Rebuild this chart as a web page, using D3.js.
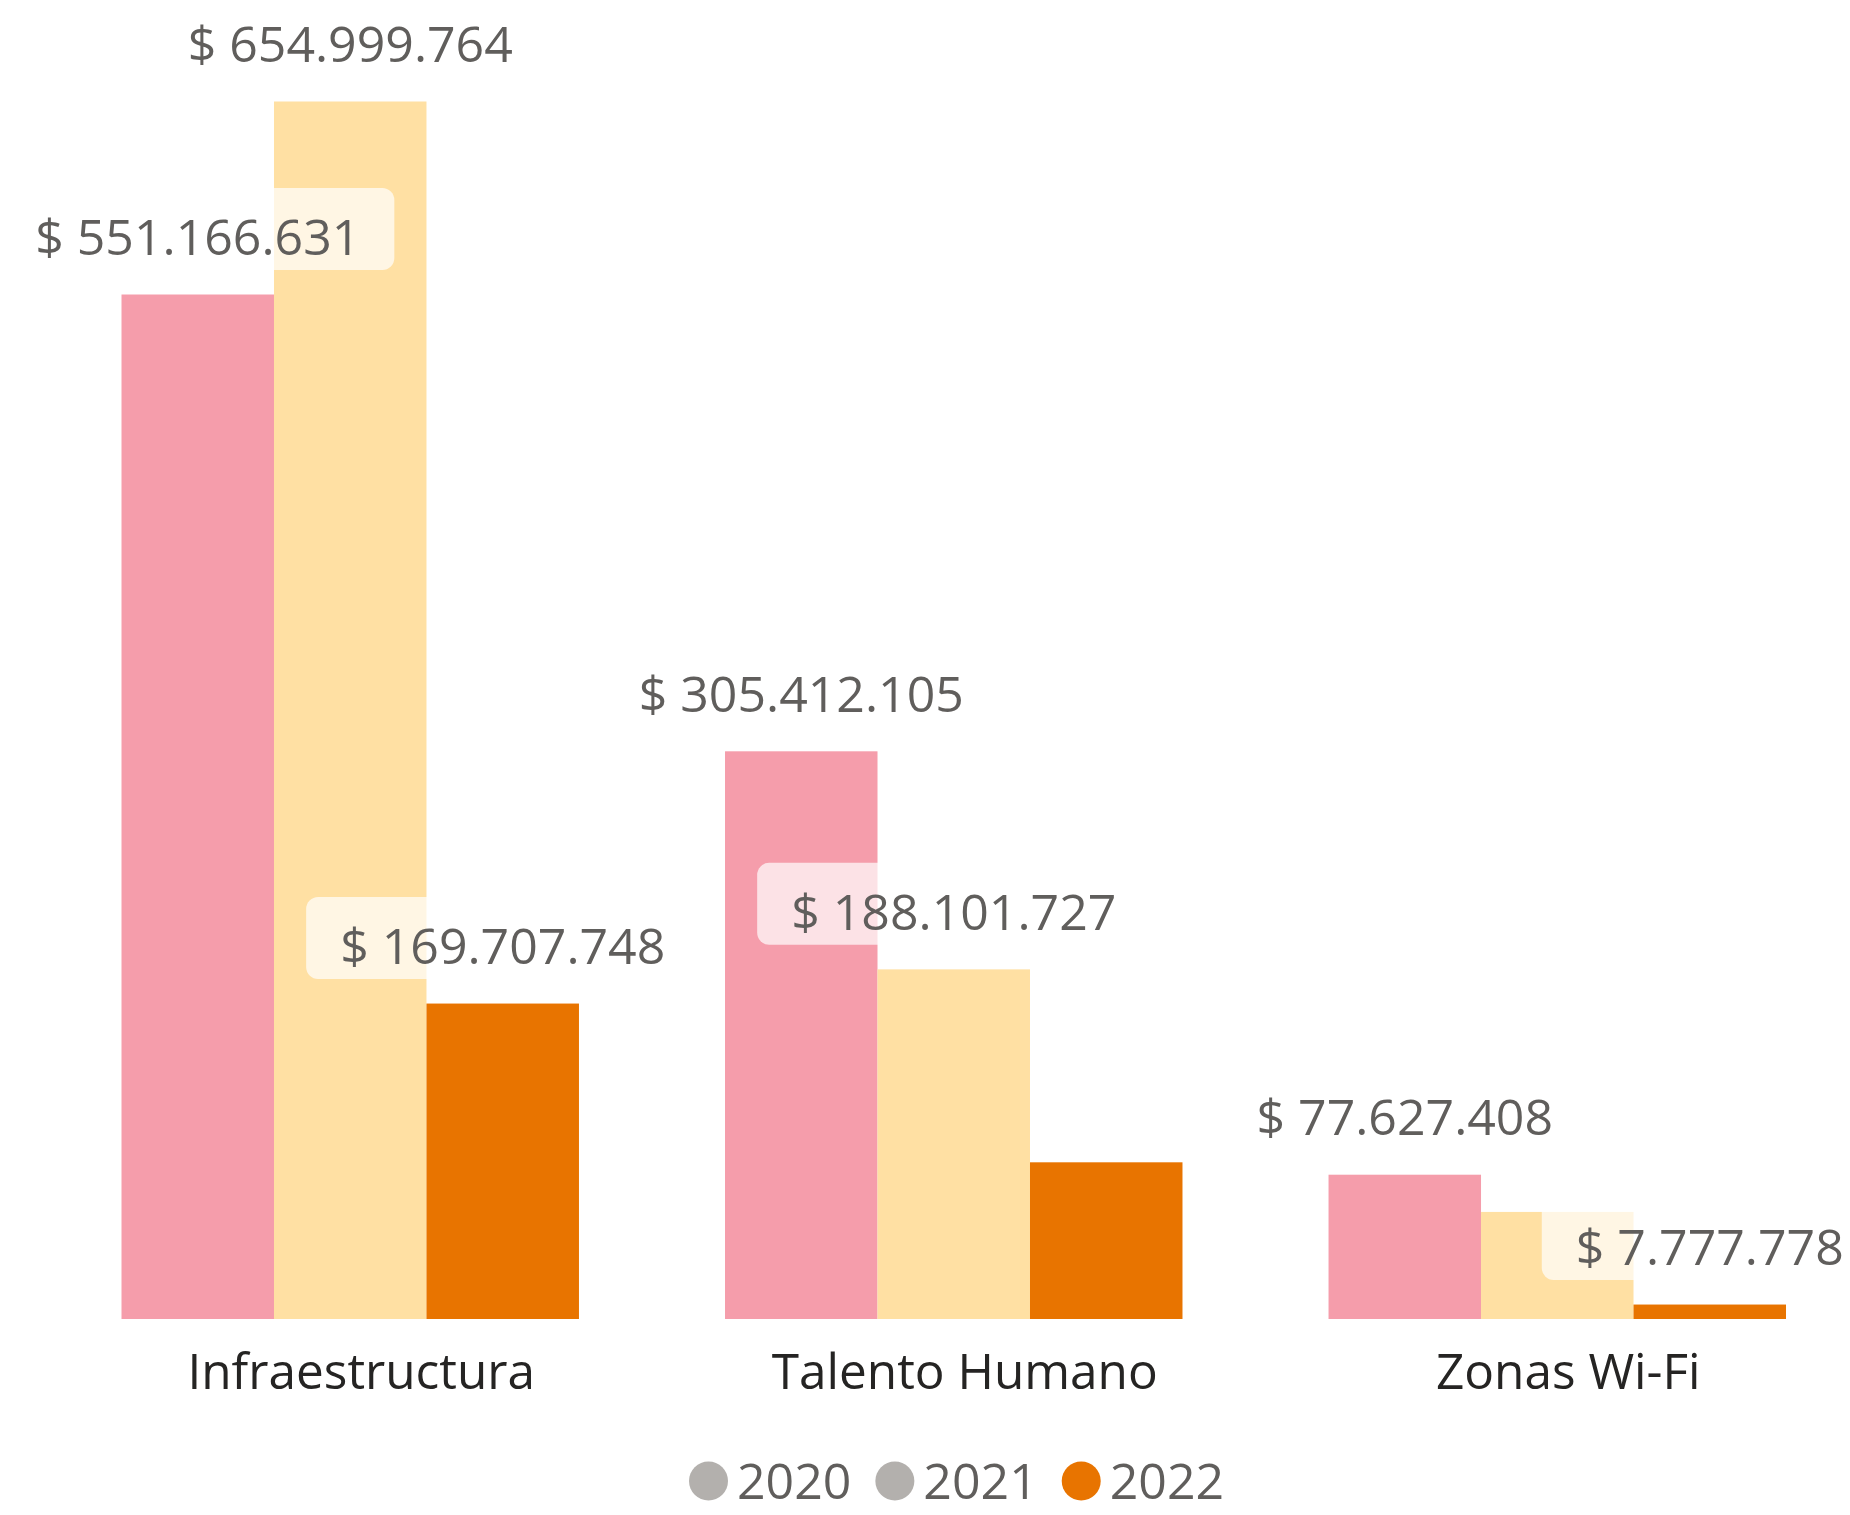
<!DOCTYPE html>
<html>
<head>
<meta charset="utf-8">
<script src="https://cdn.jsdelivr.net/npm/d3@7"></script>
<style>
  body { margin: 0; background: #fff; }
  svg { display: block; }
  text { font-family: "Open Sans", "Noto Sans", sans-serif; }
</style>
</head>
<body>
<svg id="chart" width="1850" height="1515"></svg>
<script>
// Budget by category and year
const categories = ["Infraestructura", "Talento Humano", "Zonas Wi-Fi"];
const years = ["2020", "2021", "2022"];
const values2020 = [551166631, 305412105, 77627408];
const values2021 = [654999764, 188101727, 57600000];
const values2022 = [169707748, 84300000, 7777778];
// Data labels that are displayed (two were dropped for lack of room)
const shown2020 = [true, true, true];
const shown2021 = [true, true, false];
const shown2022 = [true, false, true];

const barColors = ["#F59DAB", "#FFE0A3", "#E87400"];
const legendColors = ["#B3B0AD", "#B3B0AD", "#E87400"];

const seriesValues = [values2020, values2021, values2022];
const seriesShown = [shown2020, shown2021, shown2022];

const rows = [];
years.forEach((yr, si) => {
  categories.forEach((cat, ci) => {
    rows.push({ year: yr, cat: cat, value: seriesValues[si][ci], shown: seriesShown[si][ci], si: si });
  });
});

const locale = d3.formatLocale({ decimal: ",", thousands: ".", grouping: [3], currency: ["$ ", ""] });
const fmt = locale.format("$,");

const svg = d3.select("#chart");
const baseY = 1319;

const x0 = d3.scaleBand().domain(categories).range([121.5, 1786]).paddingInner(0.242).paddingOuter(0);
const x1 = d3.scaleBand().domain(years).range([0, x0.bandwidth()]);
const y = d3.scaleLinear().domain([0, d3.max(rows, d => d.value)]).range([baseY, 101.5]);

// Bars
svg.append("g").selectAll("rect").data(rows).join("rect")
  .attr("x", d => x0(d.cat) + x1(d.year))
  .attr("y", d => y(d.value))
  .attr("width", x1.bandwidth())
  .attr("height", d => baseY - y(d.value))
  .attr("fill", d => barColors[d.si]);

// Category axis
const axis = svg.append("g").attr("transform", `translate(0,${baseY})`)
  .call(d3.axisBottom(x0).tickSize(0));
axis.select(".domain").remove();
axis.selectAll("text")
  .attr("y", 70).attr("dy", null).attr("dx", 11)
  .attr("fill", "#252423")
  .style("font-family", '"Open Sans", sans-serif')
  .style("font-size", "49.5px");

// Data labels with a translucent backdrop
const boxLayer = svg.append("g");
const labelLayer = svg.append("g");
const labelled = rows.filter(d => d.shown);
const labels = labelLayer.selectAll("text").data(labelled).join("text")
  .attr("x", d => x0(d.cat) + x1(d.year) + x1.bandwidth() / 2)
  .attr("y", d => y(d.value) - 39.5)
  .attr("text-anchor", "middle")
  .attr("fill", "#605E5C")
  .style("font-size", "50px")
  .text(d => fmt(d.value));

labels.each(function (d) {
  const bb = this.getBBox();
  const baseline = y(d.value) - 39.5;
  boxLayer.append("rect")
    .attr("x", bb.x - 34)
    .attr("y", baseline - 67)
    .attr("width", bb.width + 68)
    .attr("height", 82)
    .attr("rx", 12)
    .attr("fill", "#fff")
    .attr("fill-opacity", 0.7);
});

// Legend
const legend = svg.append("g");
let lx = 689;
years.forEach((yr, i) => {
  legend.append("circle")
    .attr("cx", lx + 19.5).attr("cy", 1481).attr("r", 19.5)
    .attr("fill", legendColors[i]);
  const t = legend.append("text")
    .attr("x", lx + 39 + 9).attr("y", 1499)
    .attr("fill", "#605E5C")
    .style("font-size", "50px")
    .text(yr);
  lx = lx + 39 + 9 + t.node().getComputedTextLength() + 24;
});
</script>
</body>
</html>
